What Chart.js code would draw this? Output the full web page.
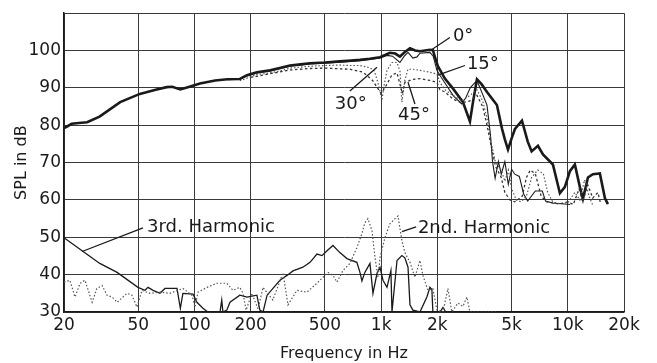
<!DOCTYPE html>
<html><head><meta charset="utf-8">
<script src="https://cdn.jsdelivr.net/npm/chart.js@4.4.0/dist/chart.umd.min.js"></script>
<style>html,body{margin:0;padding:0;background:#fff}</style>
</head><body>
<canvas id="c" width="657" height="363"></canvas>
<script>
// ---- tick values and labels ----
const freqTicks = [20, 50, 100, 200, 500, 1000, 2000, 5000, 10000, 20000];
const freqTickLabels = ['20', '50', '100', '200', '500', '1k', '2k', '5k', '10k', '20k'];
const splTicks = [30, 40, 50, 60, 70, 80, 90, 100, 110];
const splTickLabels = ['30', '40', '50', '60', '70', '80', '90', '100', ''];

// ---- 0 degree (on axis) response ----
const freq0 = [20,21,22,24,26.6,31,40,51,62,71,76,84,95,107,129,150,175,191,216,254,290,325,370,416,500,601,690,770,870,986,1050,1114,1190,1261,1340,1427,1520,1614,1720,1825,1893,1950,2013,2196,2427,2743,2990,3100,3260,3450,3690,4170,4440,4600,4780,5000,5210,5680,6100,6400,6920,7360,8320,9070,9650,10260,10910,11600,12050,12820,13620,14850,15800,16400];
const spl0 = [79.2,79.8,80.4,80.6,80.8,82.3,86.2,88.4,89.5,90.2,90.3,89.6,90.4,91.2,92.0,92.3,92.4,93.4,94.2,94.7,95.4,96.0,96.3,96.6,96.8,97.1,97.3,97.5,97.8,98.2,98.8,99.4,99.2,98.4,99.6,100.6,100.0,99.8,100.0,100.2,100.1,98.0,95.8,92.5,89.8,86.2,81.0,86.0,92.3,91.0,88.9,85.4,79.1,76.2,73.5,76.5,79.0,81.2,75.6,73.0,74.5,72.2,69.5,61.8,63.5,67.7,69.5,63.5,60.3,66.0,66.9,67.1,60.5,58.9];

// ---- 15 degree ----
const freq15 = [150,175,191,216,254,290,325,416,500,601,770,870,986,1075,1150,1261,1330,1393,1479,1556,1614,1825,1900,1990,2064,2250,2427,2700,2850,3000,3260,3450,3690,3850,3950,4080,4250,4400,4600,4800,5000,5200,5500,5800,6100,6700,7300,7600,8300,9600,10300];
const spl15 = [92.2,92.3,93.2,94.0,94.5,95.2,95.8,96.4,96.6,96.9,97.3,97.6,98.0,98.7,98.5,96.8,98.5,99.5,98.0,98.3,99.3,99.5,98.5,94.7,93.4,90.5,88.0,85.7,87.5,90.0,92.0,89.0,85.4,77.5,70.3,65.8,70.3,66.9,70.3,64.2,68.2,66.9,66.3,61.6,59.7,62.4,62.4,59.7,59.2,58.9,58.8];

// ---- 30 degree ----
const freq30 = [175,216,254,290,325,416,500,601,680,770,870,920,960,1010,1040,1075,1143,1216,1261,1292,1340,1393,1479,1614,1825,1990,2064,2200,2427,2700,2990,3260,3500,3690,3900,4100,4400,4600,4800,5000,5300,5600,6000,6400,6900,7400,7800,8300,9000,10000,10900,11600,12300,13000,13600];
const spl30 = [91.9,93.6,94.0,94.6,95.3,95.8,96.0,96.1,96.0,96.0,95.4,94.5,91.5,86.8,91.0,94.7,96.8,96.8,94.5,86.2,92.1,95.0,95.0,94.7,94.2,93.7,91.5,89.5,88.0,86.5,88.0,89.5,86.5,82.0,75.0,70.0,68.0,65.0,68.0,63.0,60.0,59.5,61.0,66.0,68.0,67.0,62.0,59.5,59.0,59.2,62.0,60.0,65.4,61.0,58.6];

// ---- 45 degree ----
const freq45 = [200,254,325,416,500,680,800,900,1000,1060,1143,1216,1261,1300,1340,1479,1614,1825,1990,2064,2200,2427,2700,2990,3260,3500,3690,3900,4100,4400,4600,4900,5200,5700,6000,6300,6700,7200,7700,8300,9000,10000,10700,11500,12000,12800,13600,14500,15000];
const spl45 = [92.8,93.8,94.8,95.2,95.3,95.0,94.2,92.0,88.5,90.5,93.5,94.0,91.0,88.5,91.5,92.3,92.5,92.0,91.5,89.5,88.9,87.0,86.0,86.5,88.0,85.0,80.0,74.0,69.0,66.0,62.0,60.0,59.5,61.0,66.0,68.0,67.0,61.0,59.5,59.2,58.9,59.5,58.8,63.0,59.5,64.0,60.5,62.0,59.0];

// ---- 3rd harmonic ----
const freqH3 = [20,25,31.1,38.5,49.8,54.3,56.4,60,65.3,69.5,80.6,84,86.7,98.2,103,111,118,137,140,142,149,155,175,191,216,224,233,245,287,313,337,381,416,453,482,513,552,601,656,741,770,789,818,871,904,950,986,1023,1075,1128,1143,1216,1292,1340,1393,1427,1479,1614,1758,1825,1870,1893,2064,2143,2220,5500];
const splH3 = [49.9,46.4,43.0,40.6,36.6,35.8,36.6,35.8,35.0,36.3,36.3,31.0,35.0,34.8,32.6,31.0,30.0,30.0,33.2,30.0,30.5,32.6,34.5,34.0,34.5,30.5,30.0,34.5,38.5,39.8,41.0,42.0,43.3,45.5,45.1,46.4,47.8,45.9,44.3,43.3,40.6,38.3,40.6,43.0,35.0,40.3,42.0,38.5,36.6,41.1,30.0,43.8,45.1,44.5,42.0,31.9,30.5,30.0,34.0,36.6,36.0,30.0,30.0,31.2,30.0,30.0];

// ---- 2nd harmonic ----
const freqH2 = [20,21.5,22.9,24.4,25.9,28.3,30,32,34,36.2,38.5,43.5,46.2,49.2,52.3,57.8,65.3,73.9,86.7,97,100.6,104.5,116.7,132,149,160.8,175,182,189,203,219,233,263,298,317,354,400,453,488,519,552,580,624,680,741,789,818,849,893,927,962,986,1048,1114,1186,1231,1292,1340,1427,1517,1614,1674,1782,1893,1990,2143,2280,2393,2577,2743,2880,2990,4170];
const splH2 = [38.0,38.5,34.0,37.7,38.5,32.6,36.3,37.1,34.5,34.0,32.6,35.0,34.5,31.3,35.8,35.0,35.3,35.0,36.3,34.5,31.3,35.3,36.6,37.7,37.7,35.8,36.6,35.0,30.5,35.0,30.8,36.6,33.2,40.5,31.9,35.8,35.3,37.7,39.3,40.6,39.8,38.0,41.1,43.0,47.2,51.0,53.9,55.0,51.8,44.6,39.3,44.6,49.9,53.6,55.0,55.7,49.1,45.9,43.3,39.3,43.8,39.8,35.8,36.3,30.5,30.0,36.3,30.0,32.4,31.5,34.0,30.0,30.0];

// ---- annotation texts ----
const noteTexts = ['0°', '15°', '30°', '45°', '3rd. Harmonic', '2nd. Harmonic'];

const pts = (fs, vs) => fs.map((f, i) => ({ x: f, y: vs[i] }));
const ink = '#1a1a1a';

function ds(label, fs, vs, width, dash, color) {
  return { label, data: pts(fs, vs), borderColor: color || ink, borderWidth: width,
           borderDash: dash || [], pointRadius: 0, tension: 0, fill: false };
}

// annotation placement in data coordinates (freq, dB)
const notePlace = [
  { at: [2424, 103.9], from: [1871, 100.3], to: [2335, 103.5] },
  { at: [2880, 96.4], from: [2013, 93.4], to: [2812, 96.0] },
  { at: [565, 85.6], from: [680, 89.2], to: [950, 95.5] },
  { at: [1231, 82.7], from: [1517, 85.7], to: [1393, 91.5] },
  { at: [55.7, 52.7], from: [25, 46.2], to: [53, 52.5] },
  { at: [1574, 52.4], from: [1292, 51.5], to: [1540, 52.8] }
];

const annotPlugin = {
  id: 'annot',
  afterDatasetsDraw(chart) {
    const { ctx, scales: { x, y } } = chart;
    ctx.save();
    ctx.fillStyle = ink; ctx.strokeStyle = ink; ctx.lineWidth = 1.3;
    ctx.font = '18px "DejaVu Sans"';
    ctx.textAlign = 'left'; ctx.textBaseline = 'middle';
    noteTexts.forEach((t, i) => {
      const p = notePlace[i];
      ctx.beginPath();
      ctx.moveTo(x.getPixelForValue(p.from[0]), y.getPixelForValue(p.from[1]));
      ctx.lineTo(x.getPixelForValue(p.to[0]), y.getPixelForValue(p.to[1]));
      ctx.stroke();
      ctx.fillText(t, x.getPixelForValue(p.at[0]), y.getPixelForValue(p.at[1]));
    });
    ctx.restore();
  }
};

new Chart(document.getElementById('c'), {
  type: 'line',
  data: {
    datasets: [
      ds('2nd. Harmonic', freqH2, splH2, 1.2, [1.5, 2], '#555'),
      ds('3rd. Harmonic', freqH3, splH3, 1.3),
      ds('45°', freq45, spl45, 1.3, [2.5, 2.5], '#333'),
      ds('30°', freq30, spl30, 1.2, [1.5, 2], '#555'),
      ds('15°', freq15, spl15, 1.1),
      ds('0°', freq0, spl0, 2.6)
    ]
  },
  options: {
    responsive: false,
    animation: false,
    layout: { padding: { top: 11, right: 33, left: 0, bottom: 0 } },
    plugins: { legend: { display: false }, tooltip: { enabled: false } },
    scales: {
      x: {
        type: 'logarithmic', min: 20, max: 20000,
        afterBuildTicks: s => { s.ticks = freqTicks.map(v => ({ value: v })); },
        afterFit: s => { s.height = 51; },
        ticks: {
          autoSkip: false, maxRotation: 0, padding: 3, color: ink,
          font: { family: 'DejaVu Sans', size: 17 },
          callback: v => { const i = freqTicks.indexOf(v); return i >= 0 ? freqTickLabels[i] : ''; }
        },
        grid: { color: '#3a3a3a', lineWidth: 1, drawTicks: false },
        border: { color: ink, width: 1.5 },
        title: { display: true, text: 'Frequency in Hz', color: ink,
                 font: { family: 'DejaVu Sans', size: 16 }, padding: { top: 0, bottom: 0 } }
      },
      y: {
        min: 30, max: 110,
        afterBuildTicks: s => { s.ticks = splTicks.map(v => ({ value: v })); },
        afterFit: s => { s.width = 64; },
        ticks: {
          padding: 3, color: ink, font: { family: 'DejaVu Sans', size: 17 },
          callback: v => { const i = splTicks.indexOf(v); return i >= 0 ? splTickLabels[i] : ''; }
        },
        grid: { color: '#3a3a3a', lineWidth: 1, drawTicks: false },
        border: { color: ink, width: 1.5 },
        title: { display: true, text: 'SPL in dB', color: ink,
                 font: { family: 'DejaVu Sans', size: 16 }, padding: { top: 12, bottom: 0 } }
      }
    }
  },
  plugins: [annotPlugin]
});
</script>
</body></html>
